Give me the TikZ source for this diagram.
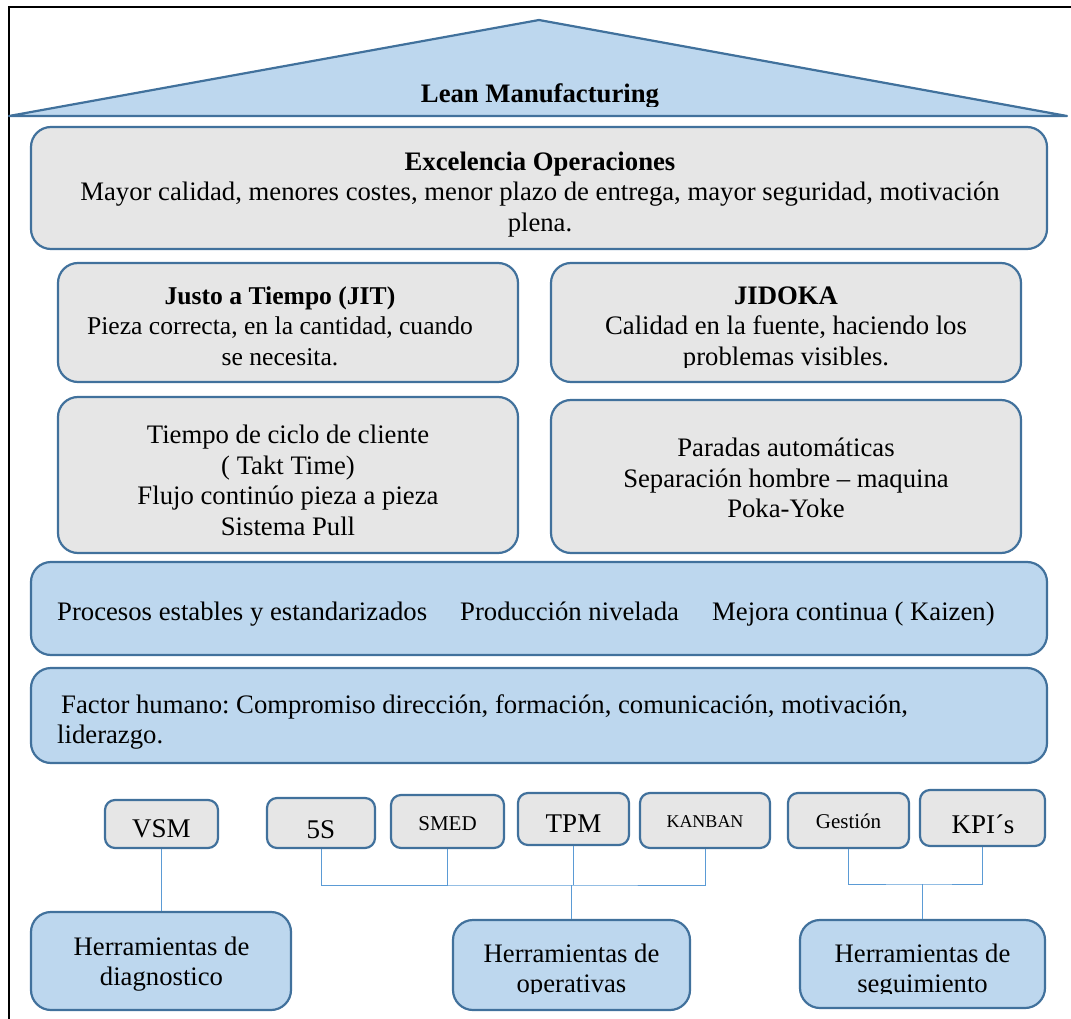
\documentclass[tikz,border=0pt]{standalone}
\usepackage{fontspec}
\setmainfont{Liberation Serif}
\frenchspacing
\newcommand\txtmain{\fontsize{26.7}{30.5}\selectfont}
\newcommand\txtsize[1]{\fontsize{#1}{#1}\selectfont}
\begin{document}
\begin{tikzpicture}[x=1pt,y=-1pt,
  boxline/.style={draw={rgb,255:red,65;green,113;blue,156}, line width=2.2pt},
  graybox/.style={boxline, fill={rgb,255:red,230;green,230;blue,230}, rounded corners=20pt, inner sep=0pt},
  bluebox/.style={boxline, fill={rgb,255:red,189;green,215;blue,238}, rounded corners=20pt, inner sep=0pt},
  toolbox/.style={graybox, rounded corners=10pt},
  txt/.style={inner sep=0pt, align=center, font=\txtmain},
  tooltxt/.style={inner sep=0pt, anchor=base},
  link/.style={draw={rgb,255:red,91;green,155;blue,213}, line width=1pt}]

\useasboundingbox (0,0) rectangle (1071,1019);

% page frame
\draw[black, line width=2pt] (9,1019) -- (9,7) -- (1071,7);

% roof
\draw[boxline, fill={rgb,255:red,189;green,215;blue,238}, line join=round]
  (9,116) -- (539,20) -- (1067,116) -- cycle;
\begin{scope}
  \clip (0,0) rectangle (1071,107);
  \node[txt, font=\txtmain\bfseries, anchor=base] (roof) at (540,102.5) {Lean Manufacturing};
\end{scope}

% top of the house
\node[graybox, minimum width=1016pt, minimum height=122pt] (exc) at (539,188) {};
\node[txt] (exc-t) at (540,194.3)
  {\textbf{Excelencia Operaciones}\\Mayor calidad, menores costes, menor plazo de entrega, mayor seguridad, motivación\\plena.};

% pillars
\node[graybox, minimum width=460pt, minimum height=119pt] (jit) at (288,322.5) {};
\node[txt, font=\fontsize{25.6}{30.5}\selectfont] (jit-t) at (280,326)
  {\textbf{Justo a Tiempo (JIT)}\\Pieza correcta, en la cantidad, cuando\\se necesita.};
\node[graybox, minimum width=470pt, minimum height=119pt] (jid) at (786,322.5) {};
\begin{scope}
  \clip (551,263) rectangle (1021,367);
  \node[txt] (jid-t) at (786,328.9)
    {\textbf{JIDOKA}\\Calidad en la fuente, haciendo los\\problemas visibles.};
\end{scope}
\node[graybox, minimum width=460pt, minimum height=156pt] (takt) at (288,475) {};
\node[txt] (takt-t) at (288,480.6)
  {Tiempo de ciclo de cliente\\( Takt Time)\\Flujo continúo pieza a pieza\\Sistema Pull};
\node[graybox, minimum width=470pt, minimum height=153pt] (poka) at (786,476.5) {};
\node[txt] (poka-t) at (786,478.3)
  {Paradas automáticas\\Separación hombre – maquina\\Poka-Yoke};

% foundations
\node[bluebox, minimum width=1016pt, minimum height=93pt] (proc) at (539,608.5) {};
\node[txt, anchor=base west] (proc-a) at (57,620.5) {Procesos estables y estandarizados};
\node[txt, anchor=base west] (proc-b) at (460,620.5) {Producción nivelada};
\node[txt, anchor=base west] (proc-c) at (712,620.5) {Mejora continua ( Kaizen)};
\node[bluebox, minimum width=1016pt, minimum height=95pt] (hum) at (539,715.5) {};
\node[txt, align=left, anchor=west] (hum-t) at (57,722)
  {\hspace*{4pt}Factor humano: Compromiso dirección, formación, comunicación, motivación,\\liderazgo.};

% tools
\node[toolbox, minimum width=113pt, minimum height=48pt] (vsm) at (161.5,824) {};
\node[tooltxt, font=\txtsize{27}] (vsm-t) at (161.5,837) {VSM};
\node[toolbox, minimum width=108pt, minimum height=50pt] (s5) at (321,823) {};
\node[tooltxt, font=\txtsize{27}] (s5-t) at (321,838) {5S};
\node[toolbox, minimum width=113pt, minimum height=53pt] (smed) at (447.5,821.5) {};
\node[tooltxt, font=\txtsize{21}] (smed-t) at (447.5,830.7) {SMED};
\node[toolbox, minimum width=111pt, minimum height=52pt] (tpm) at (573.5,819) {};
\node[tooltxt, font=\txtsize{27}] (tpm-t) at (573.5,832.7) {TPM};
\node[toolbox, minimum width=130pt, minimum height=55pt] (kanban) at (705,820.5) {};
\node[tooltxt, font=\txtsize{18}] (kanban-t) at (705,827) {KANBAN};
\node[toolbox, minimum width=121pt, minimum height=55pt] (gest) at (848.5,820.5) {};
\node[tooltxt, font=\txtsize{21}] (gest-t) at (848.5,828) {Gestión};
\node[toolbox, minimum width=125pt, minimum height=56pt] (kpi) at (982.5,818) {};
\node[tooltxt, font=\txtsize{27}] (kpi-t) at (983,833) {KPI´s};

% tool groups
\node[bluebox, minimum width=260pt, minimum height=98pt] (diag) at (161,961) {};
\node[txt] (diag-t) at (161.5,964) {Herramientas de\\diagnostico};
\node[bluebox, minimum width=237pt, minimum height=90pt] (oper) at (571.5,965) {};
\node[bluebox, minimum width=245pt, minimum height=88pt] (seg) at (922.5,964) {};
\begin{scope}
  \clip (450,915) rectangle (1050,993);
  \node[txt] (oper-t) at (571.5,971) {Herramientas de\\operativas};
  \node[txt] (seg-t) at (922.5,971) {Herramientas de\\seguimiento};
\end{scope}

% connectors
\coordinate (opbus) at (571.5,885);
\coordinate (segbus) at (922.5,884);
\draw[link] (vsm.south) -- (vsm.south |- diag.north);
\draw[link] (s5.south) |- (opbus) -| (kanban.south);
\draw[link] (smed.south) -- (smed.south |- opbus);
\draw[link] (tpm.south) -- (tpm.south |- opbus);
\draw[link] (opbus) -- (oper.north);
\draw[link] (gest.south) |- (segbus) -| (kpi.south);
\draw[link] (segbus) -- (seg.north);
\end{tikzpicture}
\end{document}
